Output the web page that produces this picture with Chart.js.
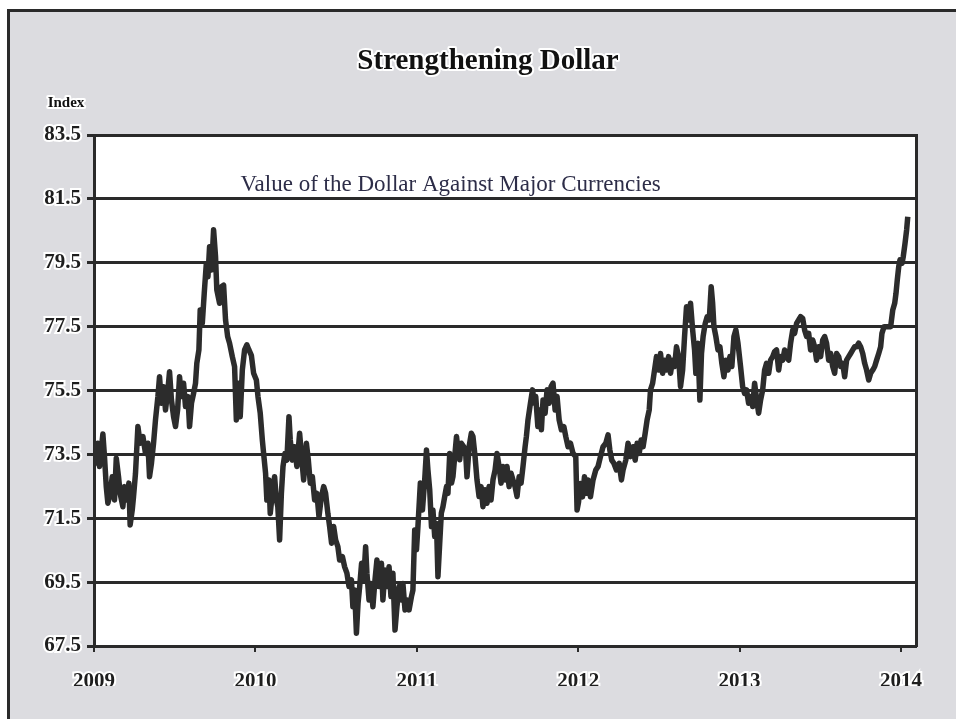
<!DOCTYPE html>
<html>
<head>
<meta charset="utf-8">
<title>Strengthening Dollar</title>
<script src="https://cdn.jsdelivr.net/npm/chart.js@4.4.1/dist/chart.umd.min.js"></script>
<style>
  html, body { margin: 0; padding: 0; background: #ffffff; }
  canvas { display: block; }
</style>
</head>
<body>
<canvas id="chart" width="956" height="723"></canvas>
<script>
// Trade-weighted value of the dollar against major currencies, weekly readings.
// Dates are decimal years.
const dates = [
  2009.003, 2009.009, 2009.024, 2009.034, 2009.055, 2009.065, 2009.076, 2009.086, 2009.100, 2009.113,
  2009.127, 2009.138, 2009.152, 2009.162, 2009.179, 2009.189, 2009.203, 2009.216, 2009.224, 2009.237,
  2009.245, 2009.257, 2009.272, 2009.286, 2009.303, 2009.319, 2009.334, 2009.344, 2009.356, 2009.369,
  2009.381, 2009.396, 2009.406, 2009.418, 2009.431, 2009.443, 2009.458, 2009.468, 2009.480, 2009.493,
  2009.505, 2009.518, 2009.530, 2009.542, 2009.555, 2009.567, 2009.582, 2009.592, 2009.604, 2009.617,
  2009.629, 2009.637, 2009.650, 2009.658, 2009.671, 2009.683, 2009.696, 2009.706, 2009.716, 2009.728,
  2009.741, 2009.753, 2009.761, 2009.778, 2009.790, 2009.803, 2009.815, 2009.828, 2009.840, 2009.857,
  2009.871, 2009.882, 2009.894, 2009.906, 2009.919, 2009.933, 2009.947, 2009.960, 2009.975, 2009.989,
  2010.006, 2010.016, 2010.030, 2010.043, 2010.051, 2010.063, 2010.071, 2010.084, 2010.092, 2010.105,
  2010.119, 2010.130, 2010.139, 2010.150, 2010.161, 2010.171, 2010.183, 2010.195, 2010.208, 2010.216,
  2010.229, 2010.243, 2010.257, 2010.274, 2010.286, 2010.299, 2010.316, 2010.328, 2010.340, 2010.353,
  2010.367, 2010.381, 2010.394, 2010.409, 2010.423, 2010.435, 2010.449, 2010.460, 2010.472, 2010.485,
  2010.497, 2010.511, 2010.522, 2010.539, 2010.553, 2010.567, 2010.580, 2010.595, 2010.604, 2010.615,
  2010.626, 2010.636, 2010.646, 2010.658, 2010.671, 2010.683, 2010.691, 2010.704, 2010.716, 2010.728,
  2010.741, 2010.753, 2010.766, 2010.781, 2010.790, 2010.803, 2010.815, 2010.828, 2010.840, 2010.852,
  2010.865, 2010.877, 2010.890, 2010.905, 2010.914, 2010.927, 2010.939, 2010.952, 2010.967, 2010.976,
  2010.987, 2010.998, 2011.007, 2011.022, 2011.035, 2011.049, 2011.060, 2011.069, 2011.080, 2011.091,
  2011.100, 2011.111, 2011.122, 2011.131, 2011.142, 2011.152, 2011.162, 2011.173, 2011.184, 2011.193,
  2011.204, 2011.215, 2011.224, 2011.235, 2011.246, 2011.255, 2011.266, 2011.276, 2011.291, 2011.303,
  2011.311, 2011.324, 2011.338, 2011.348, 2011.361, 2011.373, 2011.386, 2011.398, 2011.410, 2011.423,
  2011.435, 2011.448, 2011.460, 2011.472, 2011.485, 2011.497, 2011.510, 2011.522, 2011.534, 2011.547,
  2011.559, 2011.572, 2011.584, 2011.596, 2011.609, 2011.621, 2011.634, 2011.646, 2011.658, 2011.671,
  2011.679, 2011.689, 2011.704, 2011.717, 2011.729, 2011.737, 2011.750, 2011.762, 2011.772, 2011.782,
  2011.795, 2011.807, 2011.820, 2011.832, 2011.844, 2011.857, 2011.869, 2011.882, 2011.896, 2011.911,
  2011.923, 2011.937, 2011.952, 2011.968, 2011.985, 2011.993, 2012.002, 2012.014, 2012.027, 2012.039,
  2012.051, 2012.061, 2012.076, 2012.092, 2012.109, 2012.123, 2012.138, 2012.154, 2012.171, 2012.185,
  2012.196, 2012.208, 2012.221, 2012.237, 2012.254, 2012.268, 2012.278, 2012.295, 2012.309, 2012.324,
  2012.340, 2012.353, 2012.365, 2012.378, 2012.390, 2012.402, 2012.415, 2012.427, 2012.440, 2012.448,
  2012.461, 2012.473, 2012.485, 2012.498, 2012.510, 2012.523, 2012.535, 2012.547, 2012.560, 2012.572,
  2012.585, 2012.597, 2012.609, 2012.622, 2012.634, 2012.647, 2012.659, 2012.671, 2012.684, 2012.696,
  2012.709, 2012.721, 2012.729, 2012.741, 2012.754, 2012.764, 2012.774, 2012.787, 2012.799, 2012.812,
  2012.824, 2012.833, 2012.841, 2012.853, 2012.866, 2012.878, 2012.890, 2012.903, 2012.915, 2012.928,
  2012.940, 2012.952, 2012.965, 2012.977, 2012.990, 2013.006, 2013.019, 2013.031, 2013.043, 2013.056,
  2013.068, 2013.081, 2013.093, 2013.106, 2013.118, 2013.130, 2013.143, 2013.155, 2013.167, 2013.180,
  2013.192, 2013.205, 2013.217, 2013.229, 2013.242, 2013.254, 2013.267, 2013.279, 2013.291, 2013.304,
  2013.316, 2013.329, 2013.341, 2013.353, 2013.366, 2013.378, 2013.391, 2013.403, 2013.415, 2013.428,
  2013.440, 2013.453, 2013.465, 2013.477, 2013.490, 2013.502, 2013.515, 2013.527, 2013.539, 2013.552,
  2013.564, 2013.577, 2013.589, 2013.601, 2013.614, 2013.626, 2013.639, 2013.651, 2013.663, 2013.676,
  2013.688, 2013.701, 2013.713, 2013.725, 2013.738, 2013.750, 2013.763, 2013.775, 2013.787, 2013.800,
  2013.812, 2013.825, 2013.837, 2013.849, 2013.862, 2013.874, 2013.882, 2013.895, 2013.911, 2013.924,
  2013.936, 2013.949, 2013.961, 2013.969, 2013.977, 2013.986, 2013.994, 2014.006, 2014.014, 2014.025,
  2014.035, 2014.042
];

const dollarIndex = [
  73.85, 73.22, 73.85, 73.12, 74.14, 73.43, 72.49, 71.97, 72.28, 72.80,
  72.07, 73.38, 72.80, 72.28, 71.86, 72.49, 72.07, 72.60, 71.29, 71.76,
  72.18, 72.90, 74.37, 73.85, 74.06, 73.53, 73.85, 72.80, 73.22, 73.85,
  74.58, 75.31, 75.93, 75.10, 75.62, 74.89, 75.52, 76.09, 75.20, 74.68,
  74.37, 74.89, 75.93, 75.31, 75.73, 75.00, 75.31, 74.37, 75.10, 75.41,
  75.73, 76.35, 76.77, 78.02, 77.60, 78.54, 79.48, 79.06, 80.00, 79.27,
  80.53, 79.69, 78.65, 78.23, 78.75, 78.80, 77.71, 77.19, 76.98, 76.56,
  76.25, 74.58, 75.73, 74.68, 76.14, 76.77, 76.93, 76.77, 76.60, 76.04,
  75.83, 75.31, 74.79, 73.95, 73.53, 72.91, 72.07, 72.70, 71.65, 72.28,
  72.80, 72.07, 71.86, 70.82, 72.28, 73.12, 73.53, 73.32, 74.68, 73.95,
  73.32, 73.74, 73.12, 74.16, 73.43, 72.70, 73.85, 73.32, 72.60, 72.80,
  72.07, 72.28, 71.55, 72.18, 72.49, 72.28, 71.65, 71.24, 70.72, 71.24,
  70.82, 70.61, 70.19, 70.30, 69.98, 69.78, 69.36, 69.57, 68.73, 69.25,
  67.90, 68.84, 69.36, 70.09, 69.57, 70.61, 69.78, 68.94, 69.46, 68.73,
  69.57, 70.19, 69.36, 70.09, 68.94, 69.88, 69.36, 69.98, 69.05, 69.78,
  68.00, 68.73, 69.36, 68.94, 69.46, 68.63, 68.94, 68.63, 69.05, 69.25,
  71.13, 70.51, 71.24, 72.60, 71.76, 72.70, 73.64, 73.01, 72.39, 71.24,
  71.76, 70.93, 71.34, 69.67, 70.72, 71.66, 71.86, 72.18, 72.49, 72.28,
  73.53, 72.60, 72.80, 73.43, 74.06, 73.64, 73.33, 73.85, 73.74, 73.53,
  72.80, 73.74, 74.16, 74.06, 73.43, 72.70, 72.18, 72.49, 71.86, 72.39,
  71.97, 72.49, 72.07, 72.70, 73.01, 73.53, 73.12, 72.60, 73.12, 72.70,
  73.12, 72.49, 72.91, 72.70, 72.49, 72.18, 72.80, 72.60, 73.12, 73.74,
  74.06, 74.58, 75.10, 75.52, 75.10, 75.31, 74.37, 74.89, 74.27, 75.20,
  74.79, 75.52, 75.10, 75.62, 75.73, 74.89, 75.31, 74.58, 74.27, 74.37,
  74.06, 73.74, 73.85, 73.53, 73.43, 71.76, 72.00, 72.59, 72.17, 72.80,
  72.28, 72.70, 72.17, 72.70, 73.01, 73.12, 73.43, 73.74, 73.85, 74.11,
  73.64, 73.32, 73.22, 73.01, 73.22, 72.70, 73.01, 73.32, 73.85, 73.43,
  73.74, 73.32, 73.85, 73.53, 73.95, 73.74, 74.16, 74.58, 74.89, 75.52,
  75.72, 76.14, 76.56, 76.14, 76.66, 76.04, 76.45, 76.14, 76.56, 76.04,
  76.45, 76.25, 76.87, 76.56, 75.62, 76.14, 77.19, 78.12, 77.71, 78.23,
  77.40, 76.77, 76.04, 76.98, 75.20, 76.66, 77.19, 77.60, 77.81, 77.71,
  78.75, 78.23, 77.50, 77.19, 76.77, 76.87, 76.35, 75.93, 76.45, 76.14,
  76.56, 76.25, 77.19, 77.40, 76.98, 76.25, 75.62, 75.41, 75.52, 75.10,
  75.31, 75.00, 75.73, 75.20, 74.79, 75.20, 75.52, 76.14, 76.35, 76.04,
  76.45, 76.56, 76.72, 76.77, 76.14, 76.56, 76.45, 76.77, 76.56, 76.45,
  76.98, 77.39, 77.29, 77.60, 77.71, 77.81, 77.76, 77.39, 77.19, 77.29,
  76.77, 77.08, 76.87, 76.45, 76.87, 76.56, 77.08, 77.19, 76.98, 76.45,
  76.66, 76.25, 76.04, 76.66, 76.56, 76.25, 76.35, 75.93, 76.45, 76.56,
  76.66, 76.77, 76.87, 76.87, 76.98, 76.87, 76.66, 76.35, 76.14, 75.83,
  76.04, 76.14, 76.25, 76.45, 76.66, 76.87, 77.29, 77.50, 77.50, 77.50,
  77.50, 78.02, 78.23, 78.54, 78.96, 79.38, 79.59, 79.48, 79.69, 80.11,
  80.53, 80.94
];

const yearTicks = [2009, 2010, 2011, 2012, 2013, 2014];
const indexTicks = [67.5, 69.5, 71.5, 73.5, 75.5, 77.5, 79.5, 81.5, 83.5];

const titleText = 'Strengthening Dollar';
const unitText = 'Index';
const captionText = 'Value of the Dollar Against Major Currencies';

const SERIF = "'Liberation Serif', 'Times New Roman', serif";
const INK = '#1e1e1e';
const RULE = '#2a2a2a';
const PANEL = '#dcdce0';

// Grey panel with a dark frame behind the whole chart, white plot area.
const panelPlugin = {
  id: 'panel',
  beforeDraw(chart) {
    const { ctx, chartArea: a, width, height } = chart;
    ctx.save();
    ctx.fillStyle = '#ffffff';
    ctx.fillRect(0, 0, width, height);
    ctx.fillStyle = PANEL;
    ctx.fillRect(8, 10, width - 8, height - 14);
    ctx.strokeStyle = RULE;
    ctx.lineWidth = 3;
    ctx.beginPath();
    ctx.moveTo(8.5, height - 4);
    ctx.lineTo(8.5, 10.5);
    ctx.lineTo(width, 10.5);
    ctx.stroke();
    ctx.fillStyle = '#ffffff';
    ctx.fillRect(a.left, a.top, a.right - a.left, a.bottom - a.top);
    ctx.restore();
  }
};

function haloText(ctx, text, x, y, font, color) {
  ctx.font = font;
  ctx.textAlign = 'center';
  ctx.textBaseline = 'middle';
  ctx.lineJoin = 'round';
  ctx.strokeStyle = '#ffffff';
  ctx.lineWidth = 4;
  ctx.strokeText(text, x, y);
  ctx.fillStyle = color;
  ctx.fillText(text, x, y);
}

// Title, unit label over the value axis, and the caption inside the plot.
const labelsPlugin = {
  id: 'labels',
  afterDraw(chart) {
    const { ctx, scales } = chart;
    ctx.save();
    haloText(ctx, titleText, 488, 62, `bold 29px ${SERIF}`, '#111111');
    haloText(ctx, unitText, 66, 103, `bold 15px ${SERIF}`, '#111111');
    ctx.font = `23px ${SERIF}`;
    ctx.textAlign = 'center';
    ctx.textBaseline = 'middle';
    ctx.fillStyle = '#2d2d48';
    ctx.fillText(captionText, scales.x.getPixelForValue(2011.21), scales.y.getPixelForValue(81.93));
    ctx.restore();
  }
};

const tickFont = { family: SERIF, size: 21, weight: 'bold' };

new Chart(document.getElementById('chart'), {
  type: 'line',
  data: {
    datasets: [{
      label: captionText,
      data: dates.map((d, i) => ({ x: d, y: dollarIndex[i] })),
      borderColor: '#2c2c2c',
      borderWidth: 5.5,
      pointRadius: 0,
      tension: 0,
      borderJoinStyle: 'round'
    }]
  },
  options: {
    responsive: false,
    animation: false,
    devicePixelRatio: 1,
    layout: { padding: { top: 135, left: 0, right: 40, bottom: 37 } },
    plugins: {
      legend: { display: false },
      title: { display: false },
      tooltip: { enabled: false }
    },
    scales: {
      x: {
        type: 'linear',
        min: yearTicks[0],
        max: 2014.093,
        afterBuildTicks(scale) { scale.ticks = yearTicks.map(v => ({ value: v })); },
        afterFit(scale) { scale.height = 40; },
        ticks: {
          autoSkip: false,
          maxRotation: 0,
          padding: 17,
          color: INK,
          font: tickFont,
          textStrokeColor: '#ffffff',
          textStrokeWidth: 4,
          callback: v => String(v)
        },
        grid: { drawOnChartArea: false, drawTicks: true, tickLength: 6, color: RULE, lineWidth: 2 },
        border: { display: true, color: RULE, width: 3 }
      },
      y: {
        min: indexTicks[0],
        max: indexTicks[indexTicks.length - 1],
        afterBuildTicks(scale) { scale.ticks = indexTicks.map(v => ({ value: v })); },
        afterFit(scale) { scale.width = 94; },
        ticks: {
          padding: 6,
          color: INK,
          font: tickFont,
          textStrokeColor: '#ffffff',
          textStrokeWidth: 4,
          callback: v => v.toFixed(1)
        },
        grid: { color: RULE, lineWidth: 3, tickLength: 7, drawTicks: true },
        border: { display: true, color: RULE, width: 3 }
      },
      yRight: {
        position: 'right',
        min: indexTicks[0],
        max: indexTicks[indexTicks.length - 1],
        afterFit(scale) { scale.width = 0; },
        ticks: { display: false },
        grid: { drawOnChartArea: false, drawTicks: false },
        border: { display: true, color: RULE, width: 3 }
      }
    }
  },
  plugins: [panelPlugin, labelsPlugin]
});
</script>
</body>
</html>
